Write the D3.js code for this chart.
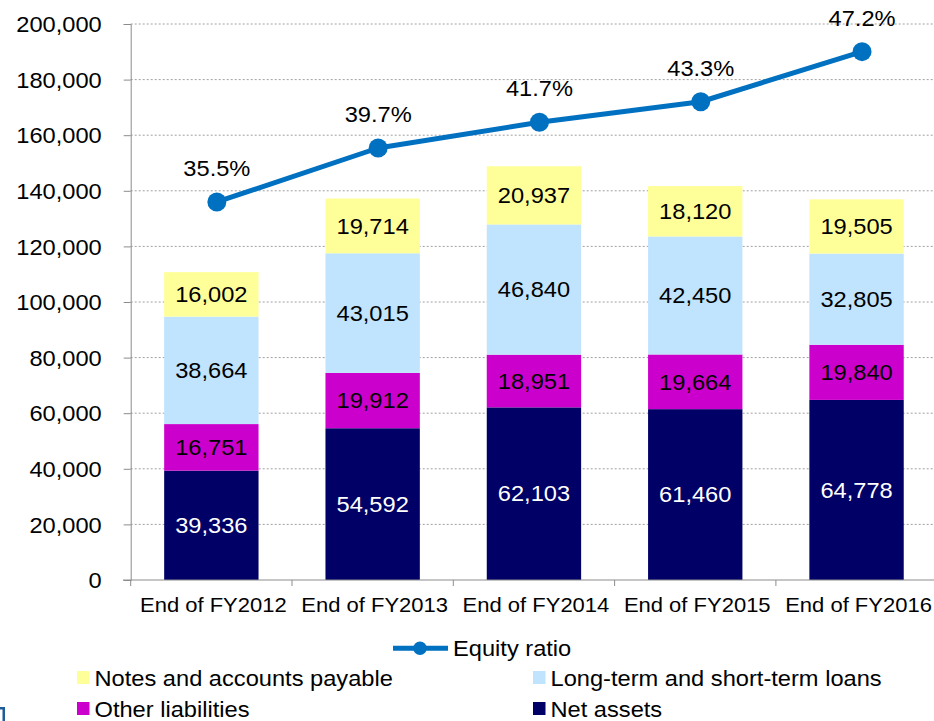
<!DOCTYPE html>
<html><head><meta charset="utf-8">
<script src="https://cdn.jsdelivr.net/npm/d3@7"></script>
<style>
body{margin:0;background:#fff}
svg{display:block}
text{font-family:Arial,"Liberation Sans",sans-serif;fill:#000}
</style>
</head><body>
<svg id="c" width="934" height="721"></svg>
<script>
const categories = ["End of FY2012","End of FY2013","End of FY2014","End of FY2015","End of FY2016"];
const netAssets = [39336,54592,62103,61460,64778];
const otherLiabilities = [16751,19912,18951,19664,19840];
const loans = [38664,43015,46840,42450,32805];
const notesPayable = [16002,19714,20937,18120,19505];
const equityRatio = [35.5,39.7,41.7,43.3,47.2];
const yTicks = [0,20000,40000,60000,80000,100000,120000,140000,160000,180000,200000];
const seriesKeys = ["Net assets","Other liabilities","Long-term and short-term loans","Notes and accounts payable"];
const seriesColors = ["#000066","#cc00cc","#c0e4fd","#ffff99"];
const labelColors = ["#ffffff","#000000","#000000","#000000"];

const rows = categories.map((c,i)=>({cat:c,
  "Net assets":netAssets[i],
  "Other liabilities":otherLiabilities[i],
  "Long-term and short-term loans":loans[i],
  "Notes and accounts payable":notesPayable[i]}));

const svg = d3.select("#c");
const SX = 1.1, FS = 21.5;
const fmt = d3.format(",");

const x = d3.scaleBand().domain(categories).range([130.7, 937.2]).padding(0);
const y = d3.scaleLinear().domain([0,200000]).range([580,24]);
const y2 = d3.scaleLinear().domain([6.08,49.35]).range([580,24]);
const barW = x.bandwidth()*0.585;
const lineOffset = 5.5;

function stretchedText(g, tx, ty, str, anchor, size, color){
  return g.append("text")
    .attr("transform",`translate(${tx},${ty}) scale(${SX},1)`)
    .attr("text-anchor",anchor)
    .style("font-size",size+"px")
    .style("fill",color||"#000")
    .text(str);
}

// gridlines
svg.append("g").selectAll("line").data(yTicks.filter(d=>d>0)).join("line")
  .attr("x1",130.7).attr("x2",934).attr("y1",d=>y(d)).attr("y2",d=>y(d))
  .attr("stroke","#a0a0a0").attr("stroke-width",1).attr("stroke-dasharray","2,2");

// y axis
const yAxis = svg.append("g").attr("transform","translate(130.7,0)")
  .call(d3.axisLeft(y).tickValues(yTicks).tickSize(7).tickFormat(fmt));
yAxis.select(".domain").attr("stroke","#8c8c8c");
yAxis.selectAll(".tick line").attr("stroke","#8c8c8c");
yAxis.selectAll(".tick text").remove();
yAxis.selectAll(".tick").each(function(d){
  stretchedText(d3.select(this), -29, 7.7, fmt(d), "end", FS);
});

// stacked bars
const stacked = d3.stack().keys(seriesKeys)(rows);
const layers = svg.append("g").selectAll("g").data(stacked).join("g")
  .attr("fill",(d,i)=>seriesColors[i]);
layers.selectAll("rect").data(d=>d).join("rect")
  .attr("x",d=>x(d.data.cat)+x.bandwidth()/2-barW/2)
  .attr("width",barW)
  .attr("y",d=>y(d[1]))
  .attr("height",d=>y(d[0])-y(d[1]));

// bar value labels
const lbl = svg.append("g");
stacked.forEach((layer,li)=>{
  layer.forEach(d=>{
    const cx = x(d.data.cat)+x.bandwidth()/2;
    const cy = (y(d[0])+y(d[1]))/2 + 7.7;
    stretchedText(lbl, cx, cy, fmt(d[1]-d[0]), "middle", FS, labelColors[li]);
  });
});

// x axis
const xg = svg.append("g");
xg.append("line").attr("x1",123).attr("x2",934).attr("y1",580).attr("y2",580).attr("stroke","#8c8c8c");
const bounds = d3.range(categories.length+1).map(i=>x.range()[0]+i*x.step());
xg.selectAll("line.tk").data(bounds).join("line").attr("class","tk")
  .attr("x1",d=>d).attr("x2",d=>d).attr("y1",580).attr("y2",586).attr("stroke","#8c8c8c");
categories.forEach(c=>{
  stretchedText(xg, x(c)+x.bandwidth()/2+2, 612, c, "middle", 20);
});

// equity ratio line
const lineColor = "#0070c0";
const px = (d,i)=>x(categories[i])+x.bandwidth()/2+lineOffset;
svg.append("path").datum(equityRatio)
  .attr("fill","none").attr("stroke",lineColor).attr("stroke-width",5).attr("stroke-linejoin","round")
  .attr("d",d3.line().x((d,i)=>px(d,i)).y(d=>y2(d)));
svg.append("g").selectAll("circle").data(equityRatio).join("circle")
  .attr("cx",(d,i)=>px(d,i)).attr("cy",d=>y2(d)).attr("r",9.5).attr("fill",lineColor);
const ll = svg.append("g");
equityRatio.forEach((d,i)=>{
  stretchedText(ll, px(d,i), y2(d)-26, d.toFixed(1)+"%", "middle", FS);
});

// legend
const lg = svg.append("g");
lg.append("line").attr("x1",393).attr("x2",448).attr("y1",648.3).attr("y2",648.3)
  .attr("stroke",lineColor).attr("stroke-width",5);
lg.append("circle").attr("cx",420).attr("cy",648.3).attr("r",6.8).attr("fill",lineColor);
stretchedText(lg, 453, 656, "Equity ratio", "start", FS);

const legendItems = [
  {key:"Notes and accounts payable", col:0, row:0},
  {key:"Long-term and short-term loans", col:1, row:0},
  {key:"Other liabilities", col:0, row:1},
  {key:"Net assets", col:1, row:1}
];
const colX = [77, 533], rowY = [671, 702];
legendItems.forEach(it=>{
  const idx = seriesKeys.indexOf(it.key);
  lg.append("rect").attr("x",colX[it.col]).attr("y",rowY[it.row]).attr("width",12.5).attr("height",13)
    .attr("fill",seriesColors[idx]);
  stretchedText(lg, colX[it.col]+17.5, rowY[it.row]+14.5, it.key, "start", FS);
});

// small page mark fragment at bottom-left
svg.append("path").attr("d","M0,707 H5 V721 H2.5 V709.5 H0 Z").attr("fill","#1f5c99");
</script>
</body></html>
